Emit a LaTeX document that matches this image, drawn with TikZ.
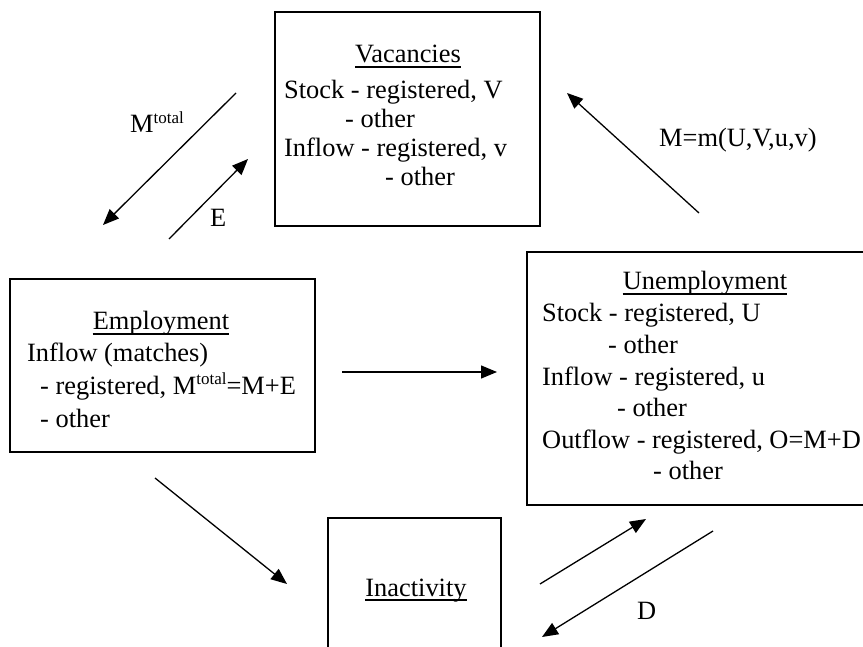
\documentclass[tikz,border=0pt]{standalone}
\usepackage{fontspec}
\setmainfont{Liberation Serif}
\usetikzlibrary{arrows.meta}
\newcommand\supx[1]{\raisebox{0.36em}{\fontsize{17}{17}\selectfont #1}}
\begin{document}
\begin{tikzpicture}[x=1pt,y=-1pt,
  box/.style={draw, line width=1.5pt, inner sep=0},
  txt/.style={inner sep=0, anchor=base west, font=\fontsize{26.4}{31.5}\selectfont},
  ctxt/.style={txt, anchor=base},
  flow/.style={line width=1.3pt, -{Triangle[length=16pt,width=13pt]}},
  uline/.style={line width=1.4pt}]
\useasboundingbox (0,0) rectangle (863,647);
\clip (0,0) rectangle (863,647);
% boxes
\node[box, minimum width=265pt, minimum height=214pt] (vacbox) at (407.5,119) {};
\node[box, minimum width=305pt, minimum height=173pt] (empbox) at (162.5,365.5) {};
\node[box, minimum width=356pt, minimum height=253pt] (unbox) at (705,378.5) {};
\node[box, minimum width=173pt, minimum height=142pt] (inbox) at (414.5,589) {};
% vacancies text
\node[ctxt] (vt) at (408,63) {Vacancies};
\node[txt] (v1) at (284,99) {Stock - registered, V};
\node[txt] (v2) at (345,128) {- other};
\node[txt] (v3) at (284,157) {Inflow - registered, v};
\node[txt] (v4) at (385,186) {- other};
% employment text
\node[ctxt] (et) at (161,330) {Employment};
\node[txt] (e1t) at (27,362) {Inflow (matches)};
\node[txt] (e2t) at (40,394) {- registered, M\supx{total}=M+E};
\node[txt] (e3t) at (40,427) {- other};
% unemployment text
\node[ctxt] (ut) at (705,290) {Unemployment};
\node[txt] (u1) at (542,322) {Stock - registered, U};
\node[txt] (u2) at (608,353) {- other};
\node[txt] (u3) at (542,385) {Inflow - registered, u};
\node[txt] (u4) at (617,416) {- other};
\node[txt] (u5) at (542,448) {Outflow - registered, O=M+D};
\node[txt] (u6) at (653,479) {- other};
% inactivity text
\node[ctxt] (it) at (416,596) {Inactivity};
% underlines
\foreach \n in {vt,et,ut,it}{
  \draw[uline] ([yshift=-4pt]\n.base west) -- ([yshift=-4pt]\n.base east);
}
% labels
\node[txt] (lmt) at (130,133) {M\supx{total}};
\node[txt] (le) at (210,227) {E};
\node[txt] (lm) at (659,147) {M=m(U,V,u,v)};
\node[txt] (ld) at (637,619) {D};
% arrow end points
\coordinate (mt1) at (236,93);  \coordinate (mt2) at (103,225);
\coordinate (ea1) at (169,239); \coordinate (ea2) at (248,159);
\coordinate (ma1) at (699,213); \coordinate (ma2) at (567,93);
\coordinate (h1) at (342,372);  \coordinate (h2) at (497,372);
\coordinate (ei1) at (155,478); \coordinate (ei2) at (287,584);
\coordinate (iu1) at (540,584); \coordinate (iu2) at (646,519);
\coordinate (da1) at (713,531); \coordinate (da2) at (542,637);
% flows
\draw[flow] (mt1) -- (mt2);
\draw[flow] (ea1) -- (ea2);
\draw[flow] (ma1) -- (ma2);
\draw[flow] (h1) -- (h2);
\draw[flow] (ei1) -- (ei2);
\draw[flow] (iu1) -- (iu2);
\draw[flow] (da1) -- (da2);
\end{tikzpicture}
\end{document}
